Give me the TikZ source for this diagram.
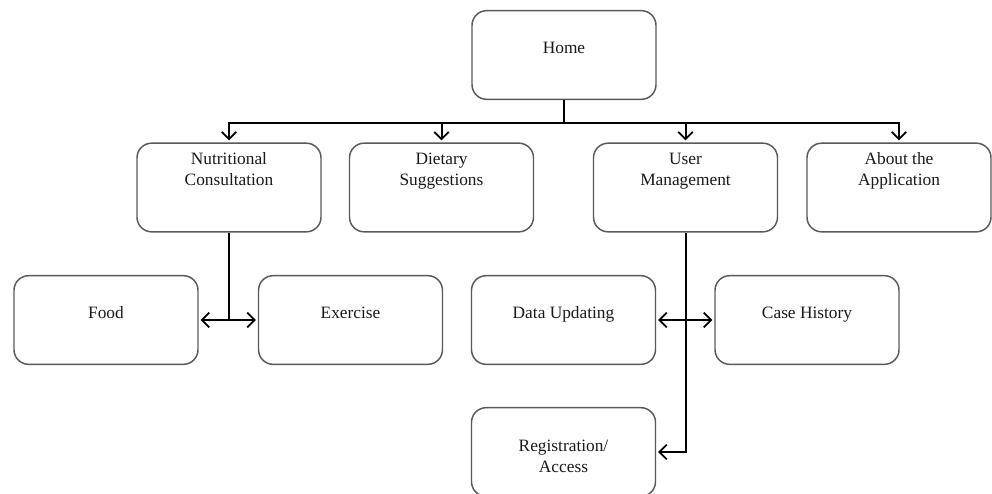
\documentclass[tikz,border=0pt]{standalone}
\usepackage{fontspec}
\setmainfont{Liberation Serif}
\usetikzlibrary{arrows.meta}
\begin{document}
\begin{tikzpicture}[x=0.75pt,y=-0.75pt,
  box/.style={draw=black!65, line width=1.1pt, rounded corners=11pt,
    minimum width=138pt, minimum height=66.5pt, inner sep=0pt},
  lbl/.style={font=\fontsize{13pt}{15.5pt}\selectfont, text=black!90, align=center, inner sep=0pt},
  conn/.style={draw=black, line width=1.5pt},
  tip/.tip={Straight Barb[length=5.5pt,width=11pt,line width=1.3pt]},
  arr/.style={conn, -tip, shorten >=1.5pt},
  darr/.style={conn, tip-tip, shorten >=1.5pt, shorten <=1.5pt}]
\useasboundingbox (0,0) rectangle (992,493);
\clip (0,0) rectangle (992,493);
% boxes
\node[box] (home) at (564,55) {};
\node[box] (nc) at (229,187.5) {};
\node[box] (ds) at (441.5,187.5) {};
\node[box] (um) at (685.5,187.5) {};
\node[box] (ab) at (899,187.5) {};
\node[box] (food) at (106,320) {};
\node[box] (ex) at (350.5,320) {};
\node[box] (du) at (563.5,320) {};
\node[box] (ch) at (807,320) {};
\node[box] (reg) at (563.5,452) {};
% texts
\node[lbl] (thome) at (564,49) {\strut Home};
\node[lbl] (tnc) at (229,171) {\strut Nutritional\\\strut Consultation};
\node[lbl] (tds) at (441.5,171) {\strut Dietary\\\strut Suggestions};
\node[lbl] (tum) at (685.5,171) {\strut User\\\strut Management};
\node[lbl] (tab) at (899,171) {\strut About the\\\strut Application};
\node[lbl] (tfood) at (106,314) {\strut Food};
\node[lbl] (tex) at (350.5,314) {\strut Exercise};
\node[lbl] (tdu) at (563.5,314) {\strut Data Updating};
\node[lbl] (tch) at (807,314) {\strut Case History};
\node[lbl] (treg) at (563.5,458) {\strut Registration/\\\strut Access};
% connectors
\coordinate (bus) at (564,123);
\draw[conn] (home.south) -- (bus);
\draw[arr] (bus) -| (nc.north);
\draw[arr] (bus) -| (ds.north);
\draw[arr] (bus) -| (um.north);
\draw[arr] (bus) -| (ab.north);
\draw[conn] (nc.south) -- (nc.south |- food.center);
\draw[darr] (food) -- (ex);
\draw[arr] (um.south) |- (reg.east);
\draw[darr] (du) -- (ch);
\end{tikzpicture}
\end{document}
